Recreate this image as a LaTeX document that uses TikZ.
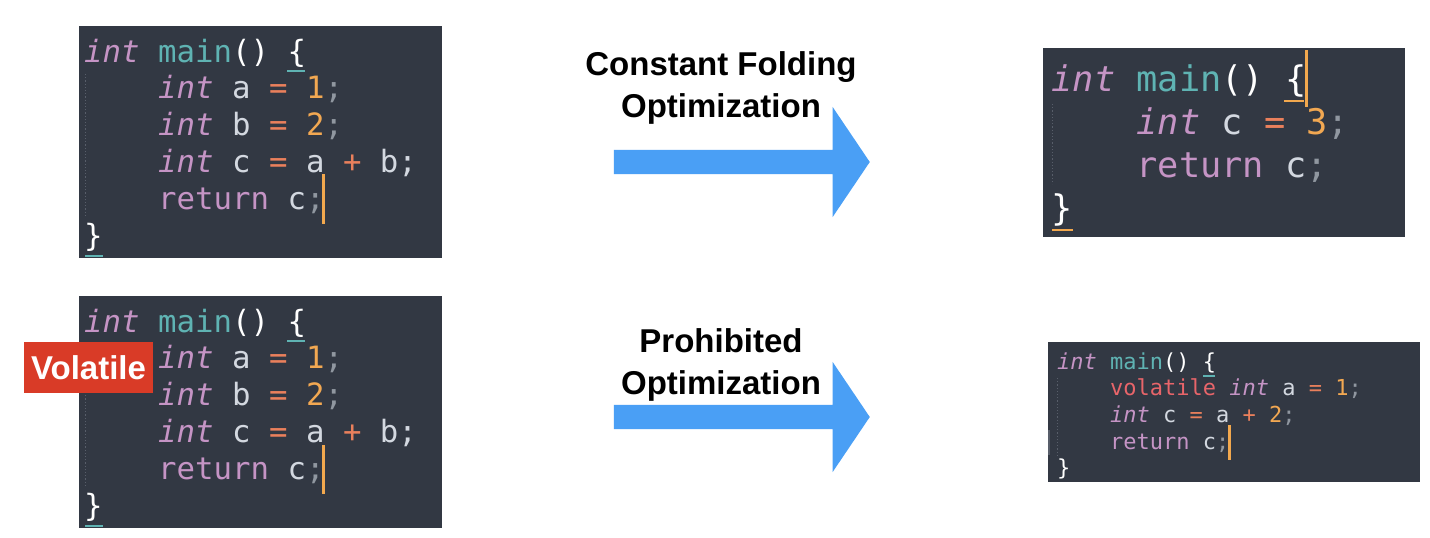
\documentclass[tikz,border=0pt]{standalone}
\usepackage{fontspec}
\usepackage{xcolor}
\usepackage{tikz}
\usetikzlibrary{shapes,arrows,positioning}
\newfontfamily\codefont{DejaVu Sans Mono}
\newfontfamily\labelfont{Liberation Sans}
\definecolor{codebg}{RGB}{50, 56, 67}
\definecolor{kwpurple}{RGB}{197, 148, 197}
\definecolor{fnteal}{RGB}{95, 179, 179}
\definecolor{oporange}{RGB}{234, 128, 92}
\definecolor{numorange}{RGB}{242, 168, 82}
\definecolor{idgrey}{RGB}{211, 216, 224}
\definecolor{pngrey}{RGB}{144, 151, 160}
\definecolor{volred}{RGB}{232, 101, 106}
\definecolor{cursororange}{RGB}{242, 168, 78}
\definecolor{guidegrey}{RGB}{88, 94, 106}
\definecolor{tagred}{RGB}{217, 59, 39}
\definecolor{arrowblue}{RGB}{74, 159, 245}
\newcommand{\cty}[1]{\textcolor{kwpurple}{\itshape #1}}
\newcommand{\ckw}[1]{\textcolor{kwpurple}{#1}}
\newcommand{\cfn}[1]{\textcolor{fnteal}{#1}}
\newcommand{\cop}[1]{\textcolor{oporange}{#1}}
\newcommand{\cnum}[1]{\textcolor{numorange}{#1}}
\newcommand{\cid}[1]{\textcolor{idgrey}{#1}}
\newcommand{\cpn}[1]{\textcolor{pngrey}{#1}}
\newcommand{\cbr}[1]{\textcolor{white}{#1}}
\newcommand{\cvol}[1]{\textcolor{volred}{#1}}
\tikzstyle{codebox} = [rectangle, fill=codebg, draw=none, inner sep=0pt, anchor=north west]
\tikzstyle{codeM} = [inner sep=0pt, anchor=base west, font=\codefont\fontsize{30.7}{37}\selectfont]
\tikzstyle{codeL} = [inner sep=0pt, anchor=base west, font=\codefont\fontsize{35.3}{43}\selectfont]
\tikzstyle{codeS} = [inner sep=0pt, anchor=base west, font=\codefont\fontsize{22}{27}\selectfont]
\tikzstyle{caption} = [inner sep=0pt, align=center, anchor=base, text=black, font=\labelfont\bfseries\fontsize{33}{42}\selectfont]
\tikzstyle{tag} = [rectangle, fill=tagred, text=white, inner sep=0pt, minimum width=129pt, minimum height=51pt, font=\labelfont\bfseries\fontsize{33}{39}\selectfont]
\tikzstyle{bigarrow} = [single arrow, fill=arrowblue, draw=none, inner sep=0pt, text height=12pt, text depth=12pt, minimum height=256pt, single arrow head extend=43pt, single arrow tip angle=112, anchor=tip]
\tikzstyle{cursor} = [draw=cursororange, line width=3pt]
\tikzstyle{guide} = [draw=guidegrey, line width=1.2pt, dotted]

\begin{document}
\begin{tikzpicture}[x=1pt, y=-1pt]

\fill[white] (0,0) rectangle (1430,538);
\useasboundingbox (0,0) rectangle (1430,538);

% code boxes =============================
\node[codebox, minimum width=363pt, minimum height=232pt] (foldin) at (79,26) {};
\node[codebox, minimum width=363pt, minimum height=232pt] (volin) at (79,296) {};
\node[codebox, minimum width=362pt, minimum height=189pt] (foldout) at (1043,48) {};
\node[codebox, minimum width=372pt, minimum height=140pt] (volout) at (1048,342) {};

% indent guides
\draw[guide] (85.5,74) -- (85.5,216);
\draw[guide] (85.5,344) -- (85.5,486);
\draw[guide] (1052.5,104) -- (1052.5,184);
\draw[guide] (1057.5,378) -- (1057.5,455);
\draw[draw=guidegrey, line width=2pt] (1049,430) -- (1049,455);

% source before folding
\node[codeM] (fa1) at (84,62) {\cty{int} \cfn{main}\cbr{() \{}};
\node[codeM] (fa2) at (158,98.8) {\cty{int} \cid{a} \cop{=} \cnum{1}\cpn{;}};
\node[codeM] (fa3) at (158,135.6) {\cty{int} \cid{b} \cop{=} \cnum{2}\cpn{;}};
\node[codeM] (fa4) at (158,172.4) {\cty{int} \cid{c} \cop{=} \cid{a} \cop{+} \cid{b}\cid{;}};
\node[codeM] (fa5) at (158,209.2) {\ckw{return} \cid{c}\cpn{;}};
\node[codeM] (fa6) at (84,246) {\cbr{\}}};

\draw[draw=fnteal, line width=2pt] (287,71) -- (305,71);
\draw[draw=fnteal, line width=2pt] (85,256) -- (103,256);
\draw[cursor] (323.5,174) -- (323.5,224);

% source with volatile
\node[codeM] (va1) at (84,332) {\cty{int} \cfn{main}\cbr{() \{}};
\node[codeM] (va2) at (158,368.8) {\cty{int} \cid{a} \cop{=} \cnum{1}\cpn{;}};
\node[codeM] (va3) at (158,405.6) {\cty{int} \cid{b} \cop{=} \cnum{2}\cpn{;}};
\node[codeM] (va4) at (158,442.4) {\cty{int} \cid{c} \cop{=} \cid{a} \cop{+} \cid{b}\cid{;}};
\node[codeM] (va5) at (158,479.2) {\ckw{return} \cid{c}\cpn{;}};
\node[codeM] (va6) at (84,516) {\cbr{\}}};

\draw[draw=fnteal, line width=2pt] (287,341) -- (305,341);
\draw[draw=fnteal, line width=2pt] (85,526) -- (103,526);
\draw[cursor] (323.5,445) -- (323.5,494);

% volatile label
\node[tag] (voltag) at (88.5,367.5) {Volatile};

% folded result
\node[codeL] (fb1) at (1051.5,91) {\cty{int} \cfn{main}\cbr{() \{}};
\node[codeL] (fb2) at (1136.5,134) {\cty{int} \cid{c} \cop{=} \cnum{3}\cpn{;}};
\node[codeL] (fb3) at (1136.5,177) {\ckw{return} \cid{c}\cpn{;}};
\node[codeL] (fb4) at (1051.5,220) {\cbr{\}}};

\draw[draw=cursororange, line width=2pt] (1284,101) -- (1304,101);
\draw[draw=cursororange, line width=2pt] (1052,230) -- (1073,230);
\draw[cursor] (1306,50) -- (1306,107);

% result kept by volatile
\node[codeS] (vb1) at (1057,369) {\cty{int} \cfn{main}\cbr{() \{}};
\node[codeS] (vb2) at (1110,395.7) {\cvol{volatile} \cty{int} \cid{a} \cop{=} \cnum{1}\cpn{;}};
\node[codeS] (vb3) at (1110,422.4) {\cty{int} \cid{c} \cop{=} \cid{a} \cop{+} \cnum{2}\cpn{;}};
\node[codeS] (vb4) at (1110,449.1) {\ckw{return} \cid{c}\cpn{;}};
\node[codeS] (vb5) at (1057,475.8) {\cbr{\}}};

\draw[draw=fnteal, line width=2pt] (1203,376) -- (1215,376);
\draw[cursor] (1229,425) -- (1229,460);

% arrows and labels
\node[bigarrow] (foldarrow) at (870,162) {};
\node[bigarrow] (volarrow) at (870,417) {};

\node[caption] (foldlabel) at (721,117) {Constant Folding\\Optimization};
\node[caption] (vollabel) at (721,394) {Prohibited\\Optimization};

\end{tikzpicture}
\end{document}
